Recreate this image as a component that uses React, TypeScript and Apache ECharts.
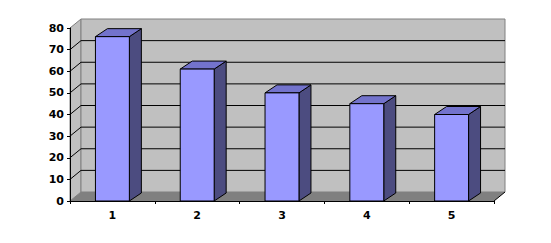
import React, { useEffect, useRef } from "react";
import * as echarts from "echarts";

const categories = ["1", "2", "3", "4", "5"];
const values = [76, 61, 50, 45, 40];
const yTicks = [0, 10, 20, 30, 40, 50, 60, 70, 80];

const FONT = "'DejaVu Sans', Verdana, sans-serif";

export default function App() {
  const ref = useRef<HTMLDivElement>(null);
  useEffect(() => {
    const chart = echarts.init(ref.current!, null, { renderer: "svg" });
    const DX = 11;
    const DY = -9;
    const BDX = 12;
    const BDY = -8;
    chart.setOption({
      animation: false,
      backgroundColor: "#ffffff",
      grid: { left: 70, right: 57, top: 28, bottom: 42, containLabel: false },
      xAxis: {
        type: "category",
        data: categories,
        z: 5,
        axisLine: { show: true, lineStyle: { color: "#000", width: 1 } },
        axisTick: { show: true, length: 3, lineStyle: { color: "#000" } },
        axisLabel: { color: "#000", fontWeight: "bold", fontSize: 11, fontFamily: FONT, margin: 9 },
        splitLine: { show: false },
      },
      yAxis: {
        type: "value",
        min: 0,
        max: 80,
        interval: 10,
        z: 5,
        axisLine: { show: true, lineStyle: { color: "#000", width: 1 } },
        axisTick: { show: true, length: 3, lineStyle: { color: "#000" } },
        axisLabel: { color: "#000", fontWeight: "bold", fontSize: 11, fontFamily: FONT, margin: 6 },
        splitLine: { show: false },
      },
      series: [
        {
          type: "custom",
          z: 1,
          silent: true,
          data: [0],
          renderItem: (params: any, api: any) => {
            const cs = params.coordSys;
            const x0 = cs.x;
            const x1 = cs.x + cs.width;
            const y0 = api.coord([0, 0])[1];
            const yTop = api.coord([0, yTicks[yTicks.length - 1]])[1];
            const children: any[] = [];
            children.push({
              type: "polygon",
              shape: { points: [[x0, y0], [x0, yTop], [x0 + DX, yTop + DY], [x0 + DX, y0 + DY]] },
              style: { fill: "#c0c0c0", stroke: "#808080", lineWidth: 1 },
            });
            children.push({
              type: "rect",
              shape: { x: x0 + DX, y: yTop + DY, width: x1 - x0, height: y0 - yTop },
              style: { fill: "#c0c0c0", stroke: "#808080", lineWidth: 1 },
            });
            children.push({
              type: "polygon",
              shape: { points: [[x0, y0], [x1, y0], [x1 + DX, y0 + DY], [x0 + DX, y0 + DY]] },
              style: { fill: "#808080" },
            });
            yTicks.forEach((v) => {
              if (v === 0 || v === yTicks[yTicks.length - 1]) return;
              const y = api.coord([0, v])[1];
              children.push({
                type: "line",
                shape: { x1: x0 + DX, y1: y + DY, x2: x1 + DX, y2: y + DY },
                style: { stroke: "#000", lineWidth: 1 },
              });
              children.push({
                type: "line",
                shape: { x1: x0, y1: y, x2: x0 + DX, y2: y + DY },
                style: { stroke: "#000", lineWidth: 1 },
              });
            });
            children.push({
              type: "line",
              shape: { x1: x1, y1: y0, x2: x1 + DX, y2: y0 + DY },
              style: { stroke: "#000", lineWidth: 1 },
            });
            return { type: "group", children };
          },
        },
        {
          type: "custom",
          z: 2,
          data: values.map((v, i) => [i, v]),
          encode: { x: 0, y: 1 },
          renderItem: (params: any, api: any) => {
            const idx = api.value(0);
            const val = api.value(1);
            const top = api.coord([idx, val]);
            const base = api.coord([idx, 0]);
            const w = api.size([1, 0])[0] * 0.4;
            const left = top[0] - w / 2;
            const right = top[0] + w / 2;
            const yv = top[1];
            const y0 = base[1];
            return {
              type: "group",
              children: [
                {
                  type: "polygon",
                  shape: { points: [[right, yv], [right + BDX, yv + BDY], [right + BDX, y0 + BDY], [right, y0]] },
                  style: { fill: "#4c4c80", stroke: "#000", lineWidth: 1 },
                },
                {
                  type: "polygon",
                  shape: { points: [[left, yv], [right, yv], [right + BDX, yv + BDY], [left + BDX, yv + BDY]] },
                  style: { fill: "#7373cc", stroke: "#000", lineWidth: 1 },
                },
                {
                  type: "rect",
                  shape: { x: left, y: yv, width: w, height: y0 - yv },
                  style: { fill: "#9999ff", stroke: "#000", lineWidth: 1 },
                },
              ],
            };
          },
        },
      ],
    });
    return () => chart.dispose();
  }, []);
  return (
    <div
      ref={ref}
      style={{ position: "absolute", left: 0, top: 0, width: 551, height: 243, background: "#fff" }}
    />
  );
}
